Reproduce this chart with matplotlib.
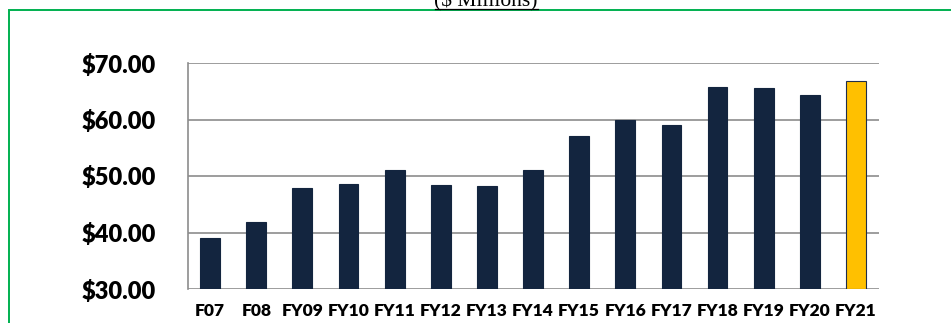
import matplotlib.pyplot as plt
from matplotlib.patches import Rectangle

years = ["F07", "F08", "FY09", "FY10", "FY11", "FY12", "FY13", "FY14",
         "FY15", "FY16", "FY17", "FY18", "FY19", "FY20", "FY21"]
spend = [39.1, 41.9, 47.9, 48.6, 51.1, 48.4, 48.2, 51.0,
         57.1, 60.0, 59.1, 65.8, 65.5, 64.3, 66.9]
y_ticks = [30, 40, 50, 60, 70]

navy = "#13253f"
gold = "#ffc000"
grid_grey = "#8c8c8c"

fig = plt.figure(figsize=(9.51, 3.23), dpi=100)
fig.patch.set_facecolor("white")

# green frame, open to the right and bottom
fig.add_artist(Rectangle((8.5 / 951, -0.1), 1.1, 1.1 - 10.5 / 323,
                         transform=fig.transFigure, fill=False,
                         edgecolor="#00b050", linewidth=1.4))

# underlined subtitle, mostly clipped by the top edge
fig.text(486 / 951, 1 - 6.5 / 323, "($ Millions)", family="Liberation Serif",
         fontsize=15.5, ha="center", va="baseline")
fig.add_artist(plt.Line2D([435 / 951, 538 / 951], [1 - 9.3 / 323] * 2,
                          transform=fig.transFigure, color="black", lw=0.9))

ax = fig.add_axes([188 / 951, 34 / 323, 691 / 951, 226 / 323])
colors = [navy] * (len(years) - 1) + [gold]
edges = [navy] * (len(years) - 1) + ["#1f2d4a"]
ax.bar(range(len(years)), [v - 30 for v in spend], bottom=30, width=0.43,
       color=colors, edgecolor=edges, linewidth=0.8, zorder=3)

ax.set_xlim(-0.48, 14.5)
ax.set_ylim(30, 70)
ax.set_yticks(y_ticks)
ax.set_yticklabels([f"${v:.2f}" for v in y_ticks])
ax.set_xticks(range(len(years)))
ax.set_xticklabels(years)
ax.grid(axis="y", color=grid_grey, linewidth=1.2, zorder=0)
ax.set_axisbelow(True)
for side in ("top", "right", "bottom"):
    ax.spines[side].set_visible(False)
ax.spines["left"].set_color(grid_grey)
ax.spines["left"].set_linewidth(1.2)
ax.tick_params(length=0)
ax.tick_params(axis="y", pad=23)
ax.tick_params(axis="x", pad=10)
for lab in ax.get_yticklabels():
    lab.set_family("Lato")
    lab.set_fontweight("heavy")
    lab.set_fontsize(17)
for lab in ax.get_xticklabels():
    lab.set_family("Lato")
    lab.set_fontweight("heavy")
    lab.set_fontsize(12.5)

fig.savefig("out.png", dpi=100, facecolor="white")
